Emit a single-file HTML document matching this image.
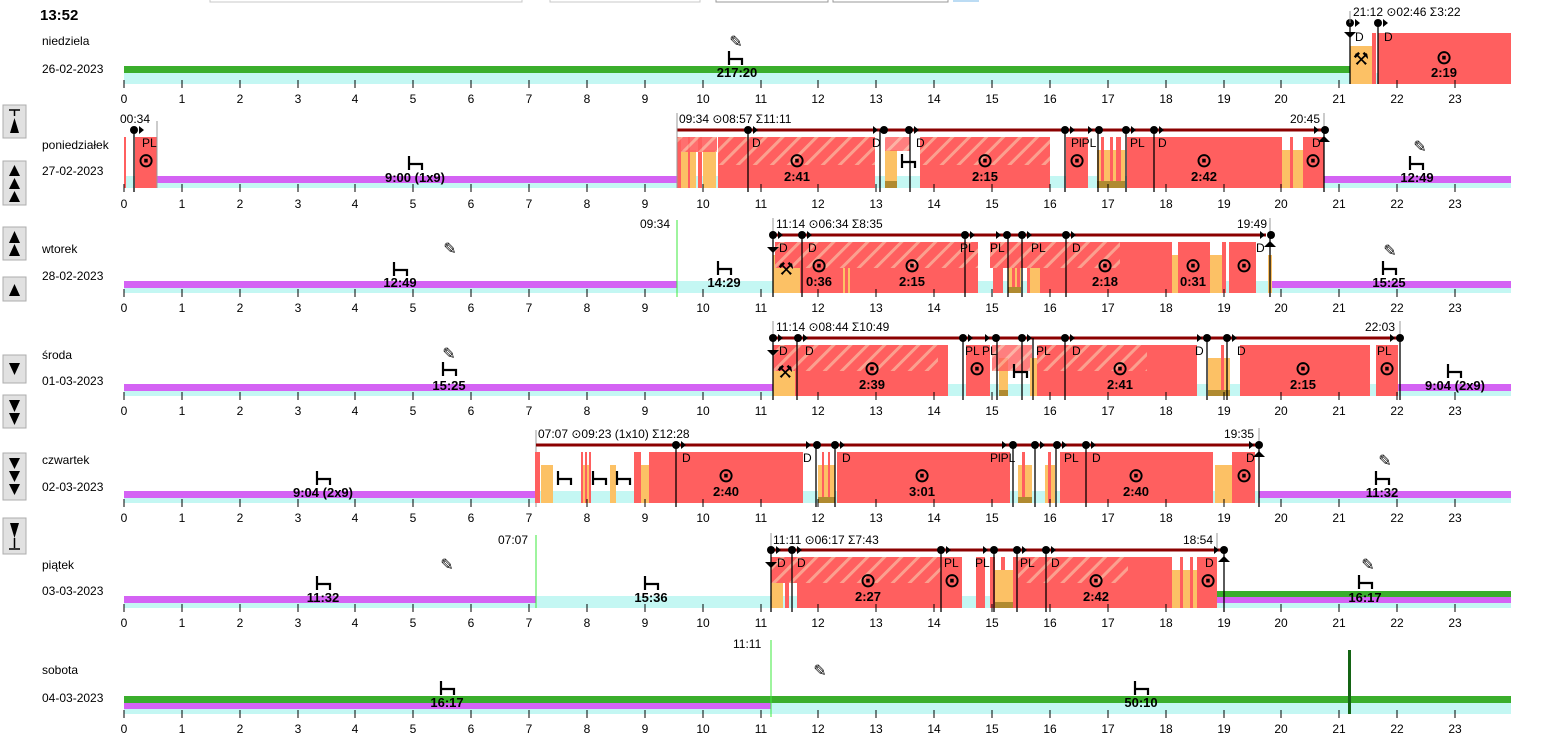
<!DOCTYPE html>
<html><head><meta charset="utf-8">
<style>
html,body{margin:0;padding:0;background:#fff;width:1551px;height:744px;overflow:hidden}
svg{display:block;font-family:"Liberation Sans","DejaVu Sans",sans-serif}
.t{font-size:12px;fill:#000}
.ax{font-size:12px;fill:#000;text-anchor:middle}
.b{font-size:13px;font-weight:bold;text-anchor:middle;fill:#000}
.s{font-size:12px;fill:#000}
.r{fill:#ff5f5f}.o{fill:#fcc165}.c{fill:#c4f7f3}.p{fill:#d463f4}.g{fill:#3aae2c}.br{fill:#b08a30}
.mk line{stroke:#000;stroke-width:1.3}
.dl{stroke:#8b0000;stroke-width:3}
.sun{font-size:20px;text-anchor:middle;fill:#000;font-weight:bold}
.bed{fill:none;stroke:#000;stroke-width:2.2}
.btn{fill:#e1e1e1;stroke:#adadad}
</style></head><body>
<svg width="1551" height="744" viewBox="0 0 1551 744">
<defs>
<pattern id="h" patternUnits="userSpaceOnUse" width="12" height="12" patternTransform="rotate(45)">
<rect width="12" height="12" fill="#ff5f5f"/><rect width="3" height="12" fill="#fba08f"/>
</pattern>
</defs>
<rect x="210" y="-4" width="312" height="6" fill="#fff" stroke="#c8c8c8"/>
<rect x="550" y="-4" width="150" height="6" fill="#fff" stroke="#c8c8c8"/>
<rect x="716" y="-4" width="112" height="6" fill="#fff" stroke="#999"/>
<rect x="833" y="-4" width="115" height="6" fill="#fff" stroke="#999"/>
<rect x="953" y="0" width="26" height="2" fill="#bcdcf4"/>
<text x="40" y="20" style="font-size:15px;font-weight:bold">13:52</text>
<rect class="btn" x="3" y="105" width="23" height="33"/><path d="M9,110h11M14.5,110v6M10,133l4.5,-15l4.5,15z"/>
<rect class="btn" x="3" y="161" width="23" height="44"/><path d="M9,176l5.5,-11l5.5,11zM9,189l5.5,-11l5.5,11zM9,202l5.5,-11l5.5,11z"/>
<rect class="btn" x="3" y="227" width="23" height="33"/><path d="M9,243l5.5,-12l5.5,12zM9,256l5.5,-12l5.5,12z"/>
<rect class="btn" x="3" y="277" width="23" height="24"/><path d="M9,296l5.5,-12l5.5,12z"/>
<rect class="btn" x="3" y="355" width="23" height="28"/><path d="M9,363l5.5,12l5.5,-12z"/>
<rect class="btn" x="3" y="395" width="23" height="33"/><path d="M9,400l5.5,12l5.5,-12zM9,413l5.5,12l5.5,-12z"/>
<rect class="btn" x="3" y="453" width="23" height="47"/><path d="M9,458l5.5,11l5.5,-11zM9,471l5.5,11l5.5,-11zM9,484l5.5,11l5.5,-11z"/>
<rect class="btn" x="3" y="518" width="23" height="36"/><path d="M10,523l4.5,15l4.5,-15zM14.5,538v10M9,549h11"/>
<path d="M14.5,110v6M14.5,538v10M9,110h11M9,549h11" stroke="#000" stroke-width="1.5"/>

<g transform="translate(0,33)">
<text class="t" x="42" y="12">niedziela</text><text class="t" x="42" y="40">26-02-2023</text>
<rect class="c" x="124" y="40" width="1387" height="11"/>
<rect class="g" x="124" y="33" width="1226" height="7"/>
<rect class="o" x="1350" y="13" width="22" height="38"/>
<rect class="r" x="1372" y="0" width="4" height="51"/>
<rect class="r" x="1378" y="0" width="133" height="51"/>
<text x="1361" y="32" style="font-size:18px" text-anchor="middle">⚒</text>
<text class="sun" x="1444" y="31">⊙</text><text class="b" x="1444" y="44">2:19</text>
<text x="736" y="14" style="font-size:16px" text-anchor="middle">✎</text>
<path class="bed" d="M729,18v14M729,26h13v6"/><text class="b" x="737" y="44">217:20</text>
<g class="mk"><line x1="1350" y1="-10" x2="1350" y2="51"/><circle cx="1350" cy="-10" r="4"/><path d="M1355,-14l5,4l-5,4z"/><path d="M1344,-1h12l-6,6z"/>
<line x1="1378" y1="-10" x2="1378" y2="51"/><circle cx="1378" cy="-10" r="4"/><path d="M1383,-14l5,4l-5,4z"/></g>
<line x1="1350" y1="-22" x2="1350" y2="-10" stroke="#999"/>
<text class="s" x="1353" y="-17">21:12 ⊙02:46 Σ3:22</text>
<text class="s" x="1355" y="8">D</text><text class="s" x="1384" y="8">D</text>
</g>

<g transform="translate(0,137)">
<text class="t" x="42" y="12">poniedziałek</text><text class="t" x="42" y="38">27-02-2023</text>
<rect class="c" x="124" y="39" width="1387" height="12"/>
<rect class="p" x="157" y="39" width="520" height="7"/>
<rect class="p" x="1324" y="39" width="187" height="7"/>
<rect class="r" x="124" y="0" width="2" height="51"/>
<rect class="r" x="135" y="0" width="22" height="51"/>
<text class="sun" x="146" y="30">⊙</text><text class="s" x="142" y="10">PL</text>
<rect class="r" x="677" y="0" width="4" height="51"/><rect class="o" x="681" y="13" width="15" height="38"/><rect class="r" x="688" y="0" width="2" height="51"/>
<rect class="r" x="698" y="0" width="4" height="51"/><rect class="o" x="703" y="13" width="13" height="38"/>
<rect x="677" y="0" width="40" height="15" fill="url(#h)" opacity=".9"/>
<rect class="r" x="718" y="0" width="157" height="51"/><rect x="718" y="0" width="157" height="28" fill="url(#h)"/>
<rect class="o" x="885" y="13" width="12" height="38"/><rect class="br" x="885" y="44" width="12" height="7"/>
<rect x="885" y="0" width="25" height="14" fill="url(#h)" opacity=".8"/>
<rect class="r" x="920" y="0" width="130" height="51"/><rect x="920" y="0" width="130" height="28" fill="url(#h)"/>
<rect class="r" x="1066" y="0" width="22" height="51"/>
<rect class="o" x="1097" y="13" width="28" height="38"/><rect class="r" x="1101" y="0" width="3" height="51"/><rect class="r" x="1110" y="0" width="3" height="51"/><rect class="r" x="1116" y="0" width="5" height="51"/><rect class="br" x="1097" y="44" width="28" height="7"/>
<rect class="r" x="1127" y="0" width="155" height="51"/>
<rect class="o" x="1282" y="13" width="21" height="38"/><rect class="r" x="1290" y="0" width="3" height="51"/>
<rect class="r" x="1303" y="0" width="21" height="51"/>
<text class="sun" x="797" y="30">⊙</text><text class="b" x="797" y="44">2:41</text>
<text class="sun" x="985" y="30">⊙</text><text class="b" x="985" y="44">2:15</text>
<text class="sun" x="1077" y="30">⊙</text>
<text class="sun" x="1204" y="30">⊙</text><text class="b" x="1204" y="44">2:42</text>
<text class="sun" x="1313" y="30">⊙</text>
<path class="bed" d="M902,17v14M902,25h13v6"/>
<path class="bed" d="M409,19v14M409,27h13v6"/><text class="b" x="415" y="45">9:00 (1x9)</text>
<text x="1420" y="15" style="font-size:16px" text-anchor="middle">✎</text>
<path class="bed" d="M1410,19v14M1410,27h13v6"/><text class="b" x="1417" y="45">12:49</text>
<line class="dl" x1="677" y1="-7" x2="1324" y2="-7"/>
<line x1="677" y1="-24" x2="677" y2="51" stroke="#999"/><line x1="1324" y1="-24" x2="1324" y2="-7" stroke="#999"/>
<text class="s" x="679" y="-14">09:34 ⊙08:57 Σ11:11</text><text class="s" x="1290" y="-14">20:45</text>
<text class="s" x="120" y="-14">00:34</text><line x1="157" y1="-16" x2="157" y2="51" stroke="#999"/>
<g class="mk">
<line x1="134" y1="-7" x2="134" y2="55"/><circle cx="134" cy="-7" r="4"/><path d="M139,-11l5,4l-5,4z"/>
<line x1="748" y1="-7" x2="748" y2="55"/><circle cx="748" cy="-7" r="4"/><path d="M753,-11l5,4l-5,4z"/>
<line x1="880" y1="-7" x2="880" y2="55"/><circle cx="884" cy="-7" r="4"/><path d="M873,-11l5,4l-5,4z"/>
<line x1="910" y1="-7" x2="910" y2="55"/><circle cx="909" cy="-7" r="4"/><path d="M914,-11l5,4l-5,4z"/>
<line x1="1065" y1="-7" x2="1065" y2="55"/><circle cx="1065" cy="-7" r="4"/><path d="M1070,-11l5,4l-5,4z"/>
<line x1="1098" y1="-7" x2="1098" y2="55"/><circle cx="1099" cy="-7" r="4"/><path d="M1088,-11l5,4l-5,4z"/>
<line x1="1126" y1="-7" x2="1126" y2="55"/><circle cx="1126" cy="-7" r="4"/><path d="M1131,-11l5,4l-5,4z"/>
<line x1="1154" y1="-7" x2="1154" y2="55"/><circle cx="1154" cy="-7" r="4"/><path d="M1159,-11l5,4l-5,4z"/>
<line x1="1324" y1="-7" x2="1324" y2="55"/><circle cx="1325" cy="-7" r="4"/><path d="M1314,-11l5,4l-5,4z"/><path d="M1318,5h12l-6,-6z"/>
</g>
<text class="s" x="752" y="10">D</text><text class="s" x="872" y="10">D</text><text class="s" x="916" y="10">D</text>
<text class="s" x="1071" y="10">PlPL</text><text class="s" x="1130" y="10">PL</text><text class="s" x="1158" y="10">D</text><text class="s" x="1312" y="10">D</text>
</g>

<g transform="translate(0,242)">
<text class="t" x="42" y="11">wtorek</text><text class="t" x="42" y="38">28-02-2023</text>
<rect class="c" x="124" y="39" width="1387" height="12"/>
<rect class="p" x="124" y="39" width="553" height="7"/>
<rect class="p" x="1272" y="39" width="239" height="7"/>
<line x1="677" y1="-22" x2="677" y2="55" stroke="#3de83d"/><text class="s" x="640" y="-14">09:34</text>
<path class="bed" d="M394,20v14M394,28h13v6"/><text class="b" x="400" y="45">12:49</text>
<text x="450" y="12" style="font-size:16px" text-anchor="middle">✎</text>
<path class="bed" d="M718,19v14M718,27h13v6"/><text class="b" x="724" y="45">14:29</text>
<rect class="o" x="773" y="13" width="27" height="38"/>
<rect class="r" x="800" y="0" width="43" height="51"/><rect class="o" x="843" y="13" width="7" height="38"/><rect class="r" x="845" y="0" width="3" height="51"/>
<rect class="r" x="850" y="0" width="128" height="51"/>
<rect x="775" y="0" width="203" height="26" fill="url(#h)"/>
<text x="786" y="33" style="font-size:18px" text-anchor="middle">⚒</text>
<rect class="r" x="993" y="0" width="10" height="51"/>
<rect class="o" x="1008" y="13" width="13" height="38"/><rect class="r" x="1012" y="0" width="3" height="51"/><rect class="r" x="1017" y="0" width="3" height="51"/><rect class="br" x="1008" y="45" width="13" height="6"/>
<rect class="r" x="1027" y="0" width="3" height="51"/><rect class="o" x="1030" y="13" width="10" height="38"/>
<rect class="r" x="1040" y="0" width="132" height="51"/>
<rect x="990" y="0" width="130" height="26" fill="url(#h)"/>
<rect class="o" x="1172" y="13" width="6" height="38"/><rect class="r" x="1178" y="0" width="32" height="51"/>
<rect class="o" x="1210" y="13" width="15" height="38"/><rect class="r" x="1222" y="0" width="4" height="51"/>
<rect class="r" x="1229" y="0" width="27" height="51"/><rect class="o" x="1268" y="13" width="4" height="38"/>
<text class="sun" x="819" y="30">⊙</text><text class="b" x="819" y="44">0:36</text>
<text class="sun" x="912" y="30">⊙</text><text class="b" x="912" y="44">2:15</text>
<text class="sun" x="1105" y="30">⊙</text><text class="b" x="1105" y="44">2:18</text>
<text class="sun" x="1193" y="30">⊙</text><text class="b" x="1193" y="44">0:31</text>
<text class="sun" x="1244" y="30">⊙</text>
<text x="1390" y="14" style="font-size:16px" text-anchor="middle">✎</text>
<path class="bed" d="M1383,19v14M1383,27h13v6"/><text class="b" x="1389" y="45">15:25</text>
<line class="dl" x1="773" y1="-7" x2="1266" y2="-7"/>
<line x1="773" y1="-24" x2="773" y2="-7" stroke="#999"/><line x1="1270" y1="-24" x2="1270" y2="-7" stroke="#999"/>
<text class="s" x="776" y="-14">11:14 ⊙06:34 Σ8:35</text><text class="s" x="1237" y="-14">19:49</text>
<g class="mk">
<line x1="773" y1="-7" x2="773" y2="55"/><circle cx="773" cy="-7" r="4"/><path d="M778,-11l5,4l-5,4z"/><path d="M767,5h12l-6,6z"/>
<line x1="802" y1="-7" x2="802" y2="55"/><circle cx="802" cy="-7" r="4"/><path d="M807,-11l5,4l-5,4z"/>
<line x1="965" y1="-7" x2="965" y2="55"/><circle cx="965" cy="-7" r="4"/><path d="M970,-11l5,4l-5,4z"/>
<line x1="1008" y1="-7" x2="1008" y2="55"/><circle cx="1007" cy="-7" r="4"/><path d="M996,-11l5,4l-5,4z"/>
<line x1="1022" y1="-7" x2="1022" y2="55"/><circle cx="1022" cy="-7" r="4"/><path d="M1027,-11l5,4l-5,4z"/>
<line x1="1066" y1="-7" x2="1066" y2="55"/><circle cx="1066" cy="-7" r="4"/><path d="M1071,-11l5,4l-5,4z"/>
<line x1="1270" y1="-7" x2="1270" y2="55"/><circle cx="1271" cy="-7" r="4"/><path d="M1260,-11l5,4l-5,4z"/><path d="M1264,5h12l-6,-6z"/>
</g>
<text class="s" x="779" y="10">D</text><text class="s" x="808" y="10">D</text><text class="s" x="960" y="10">PL</text><text class="s" x="990" y="10">PL</text>
<text class="s" x="1031" y="10">PL</text><text class="s" x="1072" y="10">D</text><text class="s" x="1256" y="10">D</text>
</g>

<g transform="translate(0,345)">
<text class="t" x="42" y="14">środa</text><text class="t" x="42" y="40">01-03-2023</text>
<rect class="c" x="124" y="39" width="1387" height="12"/>
<rect class="p" x="124" y="39" width="649" height="7"/>
<rect class="p" x="1398" y="39" width="113" height="7"/>
<text x="449" y="14" style="font-size:16px" text-anchor="middle">✎</text>
<path class="bed" d="M443,17v14M443,25h13v6"/><text class="b" x="449" y="45">15:25</text>
<rect class="o" x="773" y="13" width="22" height="38"/>
<rect class="r" x="795" y="0" width="153" height="51"/>
<rect x="773" y="0" width="165" height="26" fill="url(#h)"/>
<text x="785" y="33" style="font-size:18px" text-anchor="middle">⚒</text>
<rect class="r" x="966" y="0" width="24" height="51"/>
<rect class="o" x="999" y="13" width="9" height="38"/><rect class="br" x="999" y="45" width="9" height="6"/>
<rect x="992" y="0" width="40" height="26" fill="url(#h)" opacity=".8"/>
<path class="bed" d="M1014,19v14M1014,27h13v6"/>
<rect class="o" x="1030" y="13" width="7" height="38"/>
<rect class="r" x="1037" y="0" width="160" height="51"/>
<rect x="1037" y="0" width="110" height="26" fill="url(#h)"/>
<rect class="o" x="1208" y="13" width="22" height="38"/><rect class="r" x="1221" y="0" width="3" height="51"/><rect class="br" x="1208" y="45" width="22" height="6"/>
<rect class="r" x="1240" y="0" width="130" height="51"/>
<rect class="r" x="1376" y="0" width="22" height="51"/>
<text class="sun" x="872" y="30">⊙</text><text class="b" x="872" y="44">2:39</text>
<text class="sun" x="977" y="30">⊙</text>
<text class="sun" x="1120" y="30">⊙</text><text class="b" x="1120" y="44">2:41</text>
<text class="sun" x="1303" y="30">⊙</text><text class="b" x="1303" y="44">2:15</text>
<text class="sun" x="1387" y="30">⊙</text>
<path class="bed" d="M1448,19v14M1448,27h13v6"/><text class="b" x="1455" y="45">9:04 (2x9)</text>
<line class="dl" x1="773" y1="-7" x2="1400" y2="-7"/>
<line x1="773" y1="-24" x2="773" y2="-7" stroke="#999"/><line x1="1400" y1="-24" x2="1400" y2="-7" stroke="#999"/>
<text class="s" x="776" y="-14">11:14 ⊙08:44 Σ10:49</text><text class="s" x="1365" y="-14">22:03</text>
<g class="mk">
<line x1="773" y1="-7" x2="773" y2="55"/><circle cx="773" cy="-7" r="4"/><path d="M778,-11l5,4l-5,4z"/><path d="M767,5h12l-6,6z"/>
<line x1="797" y1="-7" x2="797" y2="55"/><circle cx="798" cy="-7" r="4"/><path d="M803,-11l5,4l-5,4z"/>
<line x1="963" y1="-7" x2="963" y2="55"/><circle cx="963" cy="-7" r="4"/><path d="M968,-11l5,4l-5,4z"/>
<line x1="997" y1="-7" x2="997" y2="55"/><circle cx="996" cy="-7" r="4"/><path d="M985,-11l5,4l-5,4z"/>
<line x1="1022" y1="-7" x2="1022" y2="55"/><circle cx="1022" cy="-7" r="4"/><path d="M1027,-11l5,4l-5,4z"/>
<line x1="1033" y1="-7" x2="1033" y2="55"/>
<line x1="1065" y1="-7" x2="1065" y2="55"/><circle cx="1065" cy="-7" r="4"/><path d="M1070,-11l5,4l-5,4z"/>
<line x1="1207" y1="-7" x2="1207" y2="55"/><circle cx="1207" cy="-7" r="4"/><path d="M1197,-11l5,4l-5,4z"/>
<line x1="1227" y1="-7" x2="1227" y2="55"/><circle cx="1227" cy="-7" r="4"/><path d="M1232,-11l5,4l-5,4z"/>
<line x1="1400" y1="-7" x2="1400" y2="55"/><circle cx="1400" cy="-7" r="4"/><path d="M1390,-11l5,4l-5,4z"/>
</g>
<text class="s" x="779" y="10">D</text><text class="s" x="805" y="10">D</text><text class="s" x="965" y="10">PL</text><text class="s" x="982" y="10">PL</text>
<text class="s" x="1036" y="10">PL</text><text class="s" x="1072" y="10">D</text><text class="s" x="1195" y="10">D</text><text class="s" x="1237" y="10">D</text><text class="s" x="1377" y="10">PL</text>
</g>

<g transform="translate(0,452)">
<text class="t" x="42" y="12">czwartek</text><text class="t" x="42" y="39">02-03-2023</text>
<rect class="c" x="124" y="39" width="1387" height="12"/>
<rect class="p" x="124" y="39" width="412" height="7"/>
<rect class="p" x="1259" y="39" width="252" height="7"/>
<path class="bed" d="M317,19v14M317,27h13v6"/><text class="b" x="323" y="45">9:04 (2x9)</text>
<line x1="536" y1="-22" x2="536" y2="55" stroke="#999"/>
<rect class="r" x="535" y="0" width="5" height="51"/><rect class="o" x="541" y="13" width="12" height="38"/>
<path class="bed" d="M558,19v14M558,27h13v6"/>
<rect class="o" x="581" y="13" width="10" height="38"/><rect class="r" x="581" y="0" width="2" height="51"/><rect class="r" x="585" y="0" width="2" height="51"/><rect class="r" x="589" y="0" width="2" height="51"/>
<path class="bed" d="M593,19v14M593,27h13v6"/>
<rect class="o" x="610" y="13" width="6" height="38"/>
<path class="bed" d="M617,19v14M617,27h13v6"/>
<rect class="r" x="634" y="0" width="7" height="51"/><rect class="o" x="641" y="13" width="8" height="38"/>
<rect class="r" x="649" y="0" width="154" height="51"/>
<rect class="o" x="818" y="13" width="17" height="38"/><rect class="r" x="822" y="0" width="2" height="51"/><rect class="r" x="828" y="0" width="2" height="51"/><rect class="br" x="818" y="45" width="17" height="6"/>
<rect class="r" x="837" y="0" width="173" height="51"/>
<rect class="o" x="1018" y="13" width="14" height="38"/><rect class="r" x="1022" y="0" width="3" height="51"/><rect class="br" x="1018" y="45" width="14" height="6"/>
<rect class="o" x="1045" y="13" width="10" height="38"/><rect class="r" x="1048" y="0" width="3" height="51"/>
<rect class="r" x="1060" y="0" width="153" height="51"/>
<rect class="o" x="1215" y="13" width="17" height="38"/><rect class="r" x="1232" y="0" width="23" height="51"/>
<text class="sun" x="726" y="30">⊙</text><text class="b" x="726" y="44">2:40</text>
<text class="sun" x="922" y="30">⊙</text><text class="b" x="922" y="44">3:01</text>
<text class="sun" x="1136" y="30">⊙</text><text class="b" x="1136" y="44">2:40</text>
<text class="sun" x="1244" y="30">⊙</text>
<text x="1385" y="14" style="font-size:16px" text-anchor="middle">✎</text>
<path class="bed" d="M1376,19v14M1376,27h13v6"/><text class="b" x="1382" y="45">11:32</text>
<line class="dl" x1="536" y1="-7" x2="1259" y2="-7"/>
<line x1="1259" y1="-24" x2="1259" y2="-7" stroke="#999"/>
<text class="s" x="538" y="-14">07:07 ⊙09:23 (1x10) Σ12:28</text><text class="s" x="1224" y="-14">19:35</text>
<g class="mk">
<line x1="676" y1="-7" x2="676" y2="55"/><circle cx="676" cy="-7" r="4"/><path d="M681,-11l5,4l-5,4z"/>
<line x1="816" y1="-7" x2="816" y2="55"/><circle cx="817" cy="-7" r="4"/><path d="M806,-11l5,4l-5,4z"/>
<line x1="835" y1="-7" x2="835" y2="55"/><circle cx="835" cy="-7" r="4"/><path d="M840,-11l5,4l-5,4z"/>
<line x1="1013" y1="-7" x2="1013" y2="55"/><circle cx="1013" cy="-7" r="4"/><path d="M1002,-11l5,4l-5,4z"/>
<line x1="1035" y1="-7" x2="1035" y2="55"/><circle cx="1035" cy="-7" r="4"/><path d="M1040,-11l5,4l-5,4z"/>
<line x1="1056" y1="-7" x2="1056" y2="55"/><circle cx="1057" cy="-7" r="4"/><path d="M1062,-11l5,4l-5,4z"/>
<line x1="1086" y1="-7" x2="1086" y2="55"/><circle cx="1086" cy="-7" r="4"/><path d="M1091,-11l5,4l-5,4z"/>
<line x1="1259" y1="-7" x2="1259" y2="55"/><circle cx="1259" cy="-7" r="4"/><path d="M1249,-11l5,4l-5,4z"/><path d="M1253,5h12l-6,-6z"/>
</g>
<text class="s" x="682" y="10">D</text><text class="s" x="803" y="10">D</text><text class="s" x="842" y="10">D</text>
<text class="s" x="990" y="10">PlPL</text><text class="s" x="1064" y="10">PL</text><text class="s" x="1092" y="10">D</text><text class="s" x="1246" y="10">D</text>
</g>

<g transform="translate(0,557)">
<text class="t" x="42" y="12">piątek</text><text class="t" x="42" y="38">03-03-2023</text>
<rect class="c" x="124" y="39" width="1387" height="12"/>
<rect class="p" x="124" y="39" width="412" height="7"/>
<line x1="536" y1="-22" x2="536" y2="51" stroke="#3de83d"/><text class="s" x="498" y="-13">07:07</text>
<path class="bed" d="M317,19v14M317,27h13v6"/><text class="b" x="323" y="45">11:32</text>
<text x="447" y="13" style="font-size:16px" text-anchor="middle">✎</text>
<path class="bed" d="M645,19v14M645,27h13v6"/><text class="b" x="651" y="45">15:36</text>
<rect class="o" x="771" y="13" width="12" height="38"/><rect class="r" x="785" y="0" width="4" height="51"/>
<rect class="r" x="797" y="0" width="165" height="51"/>
<rect x="771" y="0" width="170" height="26" fill="url(#h)"/>
<rect class="r" x="976" y="0" width="9" height="51"/><rect class="r" x="990" y="0" width="5" height="51"/>
<rect class="o" x="995" y="13" width="18" height="38"/><rect class="br" x="995" y="45" width="22" height="6"/><rect class="r" x="1001" y="0" width="4" height="13"/>
<rect class="r" x="1013" y="0" width="159" height="51"/>
<rect x="1018" y="0" width="110" height="26" fill="url(#h)"/>
<rect class="o" x="1172" y="13" width="25" height="38"/><rect class="r" x="1180" y="0" width="3" height="51"/><rect class="r" x="1190" y="0" width="3" height="51"/>
<rect class="r" x="1197" y="0" width="20" height="51"/>
<text class="sun" x="868" y="30">⊙</text><text class="b" x="868" y="44">2:27</text>
<text class="sun" x="952" y="30">⊙</text>
<text class="sun" x="1096" y="30">⊙</text><text class="b" x="1096" y="44">2:42</text>
<text class="sun" x="1208" y="30">⊙</text>
<rect class="g" x="1217" y="34" width="294" height="6"/>
<rect class="p" x="1217" y="40" width="294" height="6"/>
<text x="1368" y="13" style="font-size:16px" text-anchor="middle">✎</text>
<path class="bed" d="M1359,18v14M1359,26h13v6"/><text class="b" x="1365" y="45">16:17</text>
<line class="dl" x1="771" y1="-7" x2="1224" y2="-7"/>
<line x1="771" y1="-24" x2="771" y2="-7" stroke="#999"/><line x1="1217" y1="-24" x2="1217" y2="-7" stroke="#999"/>
<text class="s" x="773" y="-13">11:11 ⊙06:17 Σ7:43</text><text class="s" x="1183" y="-13">18:54</text>
<g class="mk">
<line x1="771" y1="-7" x2="771" y2="55"/><circle cx="771" cy="-7" r="4"/><path d="M776,-11l5,4l-5,4z"/><path d="M765,5h12l-6,6z"/>
<line x1="792" y1="-7" x2="792" y2="55"/><circle cx="792" cy="-7" r="4"/><path d="M797,-11l5,4l-5,4z"/>
<line x1="941" y1="-7" x2="941" y2="55"/><circle cx="941" cy="-7" r="4"/><path d="M946,-11l5,4l-5,4z"/>
<line x1="994" y1="-7" x2="994" y2="55"/><circle cx="994" cy="-7" r="4"/><path d="M983,-11l5,4l-5,4z"/>
<line x1="1017" y1="-7" x2="1017" y2="55"/><circle cx="1017" cy="-7" r="4"/><path d="M1022,-11l5,4l-5,4z"/>
<line x1="1046" y1="-7" x2="1046" y2="55"/><circle cx="1046" cy="-7" r="4"/><path d="M1051,-11l5,4l-5,4z"/>
<line x1="1224" y1="-7" x2="1224" y2="55"/><circle cx="1224" cy="-7" r="4"/><path d="M1214,-11l5,4l-5,4z"/><path d="M1218,5h12l-6,-6z"/>
</g>
<text class="s" x="777" y="10">D</text><text class="s" x="797" y="10">D</text><text class="s" x="944" y="10">PL</text><text class="s" x="975" y="10">PL</text>
<text class="s" x="1020" y="10">PL</text><text class="s" x="1051" y="10">D</text><text class="s" x="1205" y="10">D</text>
</g>

<g transform="translate(0,662)">
<text class="t" x="42" y="12">sobota</text><text class="t" x="42" y="40">04-03-2023</text>
<rect class="c" x="124" y="40" width="1387" height="12"/>
<rect class="g" x="124" y="34" width="1387" height="7"/>
<rect class="p" x="124" y="41" width="647" height="6"/>
<line x1="771" y1="-22" x2="771" y2="55" stroke="#3de83d"/><text class="s" x="733" y="-14">11:11</text>
<path class="bed" d="M441,19v14M441,27h13v6"/><text class="b" x="447" y="45">16:17</text>
<text x="820" y="14" style="font-size:16px" text-anchor="middle">✎</text>
<path class="bed" d="M1135,19v14M1135,27h13v6"/><text class="b" x="1141" y="45">50:10</text>
<rect x="1348" y="-12" width="3" height="64" fill="#146414"/>
</g>

<g>
<path stroke="#000" d="M124,80v8M182,80v8M240,80v8M298,80v8M355,80v8M413,80v8M471,80v8M529,80v8M587,80v8M645,80v8M703,80v8M761,80v8M818,80v8M876,80v8M934,80v8M992,80v8M1050,80v8M1108,80v8M1166,80v8M1224,80v8M1281,80v8M1339,80v8M1397,80v8M1455,80v8"/>
<path stroke="#000" d="M124,184v8M182,184v8M240,184v8M298,184v8M355,184v8M413,184v8M471,184v8M529,184v8M587,184v8M645,184v8M703,184v8M761,184v8M818,184v8M876,184v8M934,184v8M992,184v8M1050,184v8M1108,184v8M1166,184v8M1224,184v8M1281,184v8M1339,184v8M1397,184v8M1455,184v8"/>
<path stroke="#000" d="M124,289v8M182,289v8M240,289v8M298,289v8M355,289v8M413,289v8M471,289v8M529,289v8M587,289v8M645,289v8M703,289v8M761,289v8M818,289v8M876,289v8M934,289v8M992,289v8M1050,289v8M1108,289v8M1166,289v8M1224,289v8M1281,289v8M1339,289v8M1397,289v8M1455,289v8"/>
<path stroke="#000" d="M124,392v8M182,392v8M240,392v8M298,392v8M355,392v8M413,392v8M471,392v8M529,392v8M587,392v8M645,392v8M703,392v8M761,392v8M818,392v8M876,392v8M934,392v8M992,392v8M1050,392v8M1108,392v8M1166,392v8M1224,392v8M1281,392v8M1339,392v8M1397,392v8M1455,392v8"/>
<path stroke="#000" d="M124,499v8M182,499v8M240,499v8M298,499v8M355,499v8M413,499v8M471,499v8M529,499v8M587,499v8M645,499v8M703,499v8M761,499v8M818,499v8M876,499v8M934,499v8M992,499v8M1050,499v8M1108,499v8M1166,499v8M1224,499v8M1281,499v8M1339,499v8M1397,499v8M1455,499v8"/>
<path stroke="#000" d="M124,604v8M182,604v8M240,604v8M298,604v8M355,604v8M413,604v8M471,604v8M529,604v8M587,604v8M645,604v8M703,604v8M761,604v8M818,604v8M876,604v8M934,604v8M992,604v8M1050,604v8M1108,604v8M1166,604v8M1224,604v8M1281,604v8M1339,604v8M1397,604v8M1455,604v8"/>
<path stroke="#000" d="M124,710v8M182,710v8M240,710v8M298,710v8M355,710v8M413,710v8M471,710v8M529,710v8M587,710v8M645,710v8M703,710v8M761,710v8M818,710v8M876,710v8M934,710v8M992,710v8M1050,710v8M1108,710v8M1166,710v8M1224,710v8M1281,710v8M1339,710v8M1397,710v8M1455,710v8"/>
<text class="ax" y="103"><tspan x="124">0</tspan><tspan x="182">1</tspan><tspan x="240">2</tspan><tspan x="298">3</tspan><tspan x="355">4</tspan><tspan x="413">5</tspan><tspan x="471">6</tspan><tspan x="529">7</tspan><tspan x="587">8</tspan><tspan x="645">9</tspan><tspan x="703">10</tspan><tspan x="761">11</tspan><tspan x="818">12</tspan><tspan x="876">13</tspan><tspan x="934">14</tspan><tspan x="992">15</tspan><tspan x="1050">16</tspan><tspan x="1108">17</tspan><tspan x="1166">18</tspan><tspan x="1224">19</tspan><tspan x="1281">20</tspan><tspan x="1339">21</tspan><tspan x="1397">22</tspan><tspan x="1455">23</tspan></text>
<text class="ax" y="208"><tspan x="124">0</tspan><tspan x="182">1</tspan><tspan x="240">2</tspan><tspan x="298">3</tspan><tspan x="355">4</tspan><tspan x="413">5</tspan><tspan x="471">6</tspan><tspan x="529">7</tspan><tspan x="587">8</tspan><tspan x="645">9</tspan><tspan x="703">10</tspan><tspan x="761">11</tspan><tspan x="818">12</tspan><tspan x="876">13</tspan><tspan x="934">14</tspan><tspan x="992">15</tspan><tspan x="1050">16</tspan><tspan x="1108">17</tspan><tspan x="1166">18</tspan><tspan x="1224">19</tspan><tspan x="1281">20</tspan><tspan x="1339">21</tspan><tspan x="1397">22</tspan><tspan x="1455">23</tspan></text>
<text class="ax" y="312"><tspan x="124">0</tspan><tspan x="182">1</tspan><tspan x="240">2</tspan><tspan x="298">3</tspan><tspan x="355">4</tspan><tspan x="413">5</tspan><tspan x="471">6</tspan><tspan x="529">7</tspan><tspan x="587">8</tspan><tspan x="645">9</tspan><tspan x="703">10</tspan><tspan x="761">11</tspan><tspan x="818">12</tspan><tspan x="876">13</tspan><tspan x="934">14</tspan><tspan x="992">15</tspan><tspan x="1050">16</tspan><tspan x="1108">17</tspan><tspan x="1166">18</tspan><tspan x="1224">19</tspan><tspan x="1281">20</tspan><tspan x="1339">21</tspan><tspan x="1397">22</tspan><tspan x="1455">23</tspan></text>
<text class="ax" y="415"><tspan x="124">0</tspan><tspan x="182">1</tspan><tspan x="240">2</tspan><tspan x="298">3</tspan><tspan x="355">4</tspan><tspan x="413">5</tspan><tspan x="471">6</tspan><tspan x="529">7</tspan><tspan x="587">8</tspan><tspan x="645">9</tspan><tspan x="703">10</tspan><tspan x="761">11</tspan><tspan x="818">12</tspan><tspan x="876">13</tspan><tspan x="934">14</tspan><tspan x="992">15</tspan><tspan x="1050">16</tspan><tspan x="1108">17</tspan><tspan x="1166">18</tspan><tspan x="1224">19</tspan><tspan x="1281">20</tspan><tspan x="1339">21</tspan><tspan x="1397">22</tspan><tspan x="1455">23</tspan></text>
<text class="ax" y="522"><tspan x="124">0</tspan><tspan x="182">1</tspan><tspan x="240">2</tspan><tspan x="298">3</tspan><tspan x="355">4</tspan><tspan x="413">5</tspan><tspan x="471">6</tspan><tspan x="529">7</tspan><tspan x="587">8</tspan><tspan x="645">9</tspan><tspan x="703">10</tspan><tspan x="761">11</tspan><tspan x="818">12</tspan><tspan x="876">13</tspan><tspan x="934">14</tspan><tspan x="992">15</tspan><tspan x="1050">16</tspan><tspan x="1108">17</tspan><tspan x="1166">18</tspan><tspan x="1224">19</tspan><tspan x="1281">20</tspan><tspan x="1339">21</tspan><tspan x="1397">22</tspan><tspan x="1455">23</tspan></text>
<text class="ax" y="627"><tspan x="124">0</tspan><tspan x="182">1</tspan><tspan x="240">2</tspan><tspan x="298">3</tspan><tspan x="355">4</tspan><tspan x="413">5</tspan><tspan x="471">6</tspan><tspan x="529">7</tspan><tspan x="587">8</tspan><tspan x="645">9</tspan><tspan x="703">10</tspan><tspan x="761">11</tspan><tspan x="818">12</tspan><tspan x="876">13</tspan><tspan x="934">14</tspan><tspan x="992">15</tspan><tspan x="1050">16</tspan><tspan x="1108">17</tspan><tspan x="1166">18</tspan><tspan x="1224">19</tspan><tspan x="1281">20</tspan><tspan x="1339">21</tspan><tspan x="1397">22</tspan><tspan x="1455">23</tspan></text>
<text class="ax" y="733"><tspan x="124">0</tspan><tspan x="182">1</tspan><tspan x="240">2</tspan><tspan x="298">3</tspan><tspan x="355">4</tspan><tspan x="413">5</tspan><tspan x="471">6</tspan><tspan x="529">7</tspan><tspan x="587">8</tspan><tspan x="645">9</tspan><tspan x="703">10</tspan><tspan x="761">11</tspan><tspan x="818">12</tspan><tspan x="876">13</tspan><tspan x="934">14</tspan><tspan x="992">15</tspan><tspan x="1050">16</tspan><tspan x="1108">17</tspan><tspan x="1166">18</tspan><tspan x="1224">19</tspan><tspan x="1281">20</tspan><tspan x="1339">21</tspan><tspan x="1397">22</tspan><tspan x="1455">23</tspan></text>
</g>
</svg>
</body></html>
